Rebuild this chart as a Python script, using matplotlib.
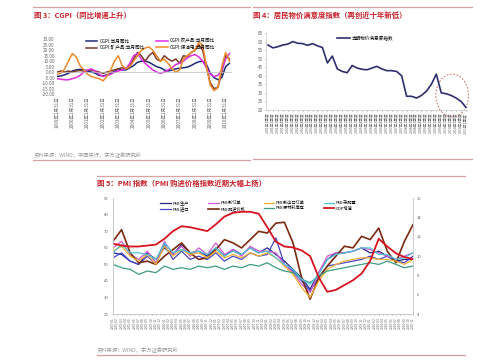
import numpy as np
import matplotlib
matplotlib.use("Agg")
import matplotlib.pyplot as plt
from matplotlib.lines import Line2D
from matplotlib.patches import Ellipse

plt.rcParams['font.family'] = ['Noto Sans CJK SC', 'DejaVu Sans']

# ---------- chart 3: CGPI (quarterly samples, 1999-01 .. 2010-04) ----------
cgpi_months = list(range(0, 138, 3))
cgpi_total = [-4, -3.5, -2.5, -1, 1, 2, 2.5, 2, 1, 0, -1, -3,
              -3.5, -2.5, -1, 0.5, 3, 2, 2, 4, 6, 9, 10, 10,
              9, 7, 5, 4, 2, 1, 2, 3, 3.5, 4, 4.5, 6,
              8, 9.5, 10, 7, -1, -5, -7, -5, 5, 8]
cgpi_agri = [-6, -6.5, -7, -7, -6, -5, -3, 0, 2, 3, 1, -2,
             -4, -3, -2, 0, 1, 2, 3, 8, 15, 17, 12, 8,
             5, 2, 0, -1, 0, 2, 4, 7, 8, 10, 13, 15,
             16, 14, 10, 4, -2, -4, -3, 2, 12, 17]
cgpi_mine = [0, 1, 0, 1, 0, 1, 1.5, 1, 1.5, 2, 1, 0,
             -1, 0, 1, 2, 3, 4, 3, 6, 12, 18, 15, 10,
             15, 18, 12, 10, 15, 12, 10, 12, 8, 15, 14, 18,
             20, 25, 20, 5, -10, -15, -14, 0, 15, 12]
cgpi_fuel = [-2, -1, 3, 10, 17, 14, 6, 2, -2, -4, -5, -6,
             -8, -4, 2, 10, 15, 6, 3, 5, 10, 15, 20, 22,
             23, 20, 15, 10, 12, 8, 3, 0, 2, 12, 15, 18,
             20, 27, 25, 5, -12, -17, -14, 5, 18, 10]
cgpi_years = list(range(1999, 2011))
cgpi_names = ['CGPI:当月同比', 'CGPI:矿产品:当月同比', 'CGPI:农产品:当月同比', 'CGPI:煤油电:当月同比']

# ---------- chart 4: price satisfaction index (2001Q1 .. 2011Q1) ----------
sat_values = [58, 56.3, 57, 58, 58.5, 60, 59, 58.8, 57.8, 58.8, 57.5, 56.5,
              47.5, 51.5, 44, 42.5, 41.8, 46, 44.5, 43.8, 43.5, 44.5, 45.5, 44,
              43, 43, 42.5, 40, 28, 28, 27, 28.5, 31, 35, 41, 30,
              29.5, 28.5, 27, 25, 21.5]
sat_labels = ['%d年%d季度' % (2001 + i // 4, i % 4 + 1) for i in range(len(sat_values))]

# ---------- chart 5: PMI (bimonthly samples, 2005-01 .. 2010-11) ----------
pmi_months = list(range(0, 71, 2))
pmi_prod = [57, 56, 52, 50, 57, 53, 60, 56, 62, 57, 58, 55, 60, 55, 59, 56, 60, 57,
            60, 56, 52, 47, 42, 35, 45, 53, 57, 57, 58, 60, 57, 58, 55, 52, 53, 53]
pmi_order = [60, 64, 56, 53, 58, 51, 64, 56, 61, 55, 60, 56, 63, 56, 59, 55, 61, 58,
             58, 57, 50, 45, 38, 33, 45, 55, 57, 57, 58, 60, 59, 57, 55, 53, 55, 57]
pmi_export = [58, 61, 55, 52, 56, 50, 61, 55, 59, 56, 57, 54, 58, 54, 56, 54, 57, 55,
              57, 54, 49, 44, 36, 30, 40, 47, 50, 52, 53, 54, 54, 53, 53, 52, 50, 53]
pmi_buy = [57, 62, 57, 57, 56, 53, 63, 57, 59, 57, 58, 56, 60, 55, 58, 56, 60, 57,
           58, 54, 50, 47, 41, 38, 44, 53, 56, 57, 58, 60, 60, 56, 56, 53, 54, 57]
pmi_import = [54, 57, 52, 50, 55, 50, 62, 53, 58, 53, 55, 53, 57, 52, 55, 53, 57, 55,
              56, 66, 50, 46, 40, 34, 42, 49, 50, 51, 52, 53, 55, 53, 55, 52, 51, 55]
pmi_price = [64, 71, 57, 51, 52, 50, 55, 59, 63, 57, 53, 54, 59, 65, 63, 60, 65, 70,
             69, 75, 75.5, 63, 42, 29, 42, 49, 55, 61, 60, 67, 65, 72, 58, 51, 64, 74]
pmi_stock = [50, 48, 47, 44, 46, 45, 49, 47, 48, 47, 49, 48, 49, 47, 49, 48, 50, 49,
             51, 48, 46, 45, 41, 39, 43, 46, 47, 48, 49, 50, 51, 50, 52, 50, 48, 49]
gdp_growth = [11.3, 11.1, 11.0, 11.0, 11.1, 11.2, 11.8, 12.6, 13.1, 13.0, 12.8, 12.6,
              13.3, 14.1, 14.5, 14.6, 14.6, 14.4, 13.0, 11.5, 11.0, 10.9, 10.6, 10.0,
              7.8, 6.3, 6.5, 7.0, 7.5, 8.2, 9.5, 11.8, 11.0, 10.3, 9.9, 9.7]
pmi_labels = ['%d-%02d' % (2005 + i // 12, i % 12 + 1) for i in range(71)]

W, H = 500, 361
red = '#c8202a'
rule = '#dca0a0'
grey = '#9a9a9a'
tickc = '#666666'


def rect(x0, y0, x1, y1):
    # pixel box (top-left origin) -> figure fraction
    return [x0 / W, 1 - y1 / H, (x1 - x0) / W, (y1 - y0) / H]


def hline(fig, x0, x1, y, color=rule, lw=0.9):
    fig.add_artist(Line2D([x0 / W, x1 / W], [1 - y / H, 1 - y / H], color=color, lw=lw))


def text(fig, x, y, s, **kw):
    fig.text(x / W, 1 - y / H, s, va='center', ha='left', **kw)


fig = plt.figure(figsize=(5.0, 3.61), dpi=100)

# ---- panel 3 ----
hline(fig, 33, 250, 7)
hline(fig, 33, 250, 160)
text(fig, 34, 15, '图 3：CGPI（同比增速上升）', color=red, fontsize=5.3, fontweight='bold')
text(fig, 34, 155, '资料来源：WIND，中国央行，东方证券研究所', color=grey, fontsize=3.8)

ax3 = fig.add_axes(rect(57, 39.3, 232, 94))
ax3.plot(cgpi_months, cgpi_total, color='#1e2a78', lw=1.1, label=cgpi_names[0])
ax3.plot(cgpi_months, cgpi_mine, color='#7a3b28', lw=1.1, label=cgpi_names[1])
ax3.plot(cgpi_months, cgpi_agri, color='#e02ee0', lw=1.1, label=cgpi_names[2])
ax3.plot(cgpi_months, cgpi_fuel, color='#ee8a2c', lw=1.1, label=cgpi_names[3])
ax3.axhline(0, color='#bbbbbb', lw=0.5)
ax3.set_ylim(-20, 30)
ax3.set_xlim(0, 137)
ax3.set_yticks(np.arange(-20, 31, 5))
ax3.set_yticklabels(['%.2f' % v for v in np.arange(-20, 31, 5)])
ax3.set_xticks([12 * i for i in range(len(cgpi_years))])
ax3.set_xticklabels(['%d年1月31日' % y for y in cgpi_years], rotation=90)
ax3.tick_params(labelsize=3.3, length=0, pad=1.5, colors=tickc)
for s in ax3.spines.values():
    s.set_visible(False)
ax3.legend(loc='upper left', bbox_to_anchor=(0.15, 1.06), ncol=2, frameon=False,
           fontsize=3.3, handlelength=2.6, columnspacing=2.5, labelspacing=0.3,
           borderpad=0, handletextpad=0.4)

# ---- panel 4 ----
hline(fig, 253, 472, 7)
hline(fig, 253, 472, 159)
text(fig, 253, 15, '图 4：居民物价满意度指数（再创近十年新低）', color=red, fontsize=5.3, fontweight='bold')

ax4 = fig.add_axes(rect(266, 33, 468, 110))
xq = np.arange(len(sat_values))
ax4.plot(xq, sat_values, color='#2e2e6e', lw=1.2, label='当期物价满意度指数')
ax4.set_ylim(20, 65)
ax4.set_xlim(-0.4, len(sat_values) - 0.6)
ax4.set_yticks(range(20, 66, 5))
ax4.set_xticks(xq)
ax4.set_xticklabels(sat_labels, rotation=90)
ax4.tick_params(labelsize=2.6, length=1, width=0.4, pad=1, colors=tickc)
ax4.tick_params(axis='y', labelsize=3.3)
for k in ['top', 'right']:
    ax4.spines[k].set_visible(False)
for k in ['left', 'bottom']:
    ax4.spines[k].set_color('#c8c8c8')
    ax4.spines[k].set_linewidth(0.5)
ax4.add_patch(Ellipse((37.2, 28.5), 6.6, 25, fill=False, ls=(0, (2, 2)),
                      ec='#c85050', lw=0.6, clip_on=False))
ax4.legend(loc='upper left', bbox_to_anchor=(0.34, 1.0), frameon=False, fontsize=3.3,
           handlelength=2.8, borderpad=0, handletextpad=0.4)

# ---- panel 5 ----
hline(fig, 97, 465, 175.5)
hline(fig, 97, 465, 355)
text(fig, 97, 183.5, '图 5：PMI 指数（PMI 购进价格指数近期大幅上扬）', color=red, fontsize=5.3,
     fontweight='bold')
text(fig, 97, 350, '资料来源：WIND，东方证券研究所', color=grey, fontsize=3.8)

ax5 = fig.add_axes(rect(113, 198.3, 413, 314))
ax5b = ax5.twinx()
h = []
h += ax5.plot(pmi_months, pmi_prod, color='#26268a', lw=0.9, label='PMI:生产')
h += ax5.plot(pmi_months, pmi_import, color='#4646c8', lw=0.9, label='PMI:进口')
h += ax5.plot(pmi_months, pmi_order, color='#d257d2', lw=0.9, label='PMI:新订单')
h += ax5.plot(pmi_months, pmi_price, color='#7a2a10', lw=1.2, label='PMI:购进价格')
h += ax5.plot(pmi_months, pmi_export, color='#f0b232', lw=0.9, label='PMI:新出口订单')
h += ax5.plot(pmi_months, pmi_stock, color='#3c9c84', lw=0.9, label='PMI:原材料库存')
h += ax5.plot(pmi_months, pmi_buy, color='#52c4d6', lw=0.9, label='PMI:采购量')
h += ax5b.plot(pmi_months, gdp_growth, color='#d8121e', lw=1.3, label='GDP增速')
ax5.set_ylim(20, 90)
ax5b.set_ylim(4, 16)
ax5.set_xlim(0, 70)
ax5.set_yticks(range(20, 91, 10))
ax5b.set_yticks(range(4, 17, 2))
ax5.set_xticks(range(71))
ax5.set_xticklabels(pmi_labels, rotation=90)
ax5.tick_params(axis='x', labelsize=2.3, length=1, width=0.4, pad=1, colors=tickc)
ax5.tick_params(axis='y', labelsize=3.0, length=0, pad=3, colors=tickc)
ax5b.tick_params(axis='y', labelsize=3.0, length=0, pad=3, colors=tickc)
for a in (ax5, ax5b):
    a.spines['top'].set_visible(False)
    for k in ['left', 'right', 'bottom']:
        a.spines[k].set_color('#c8c8c8')
        a.spines[k].set_linewidth(0.5)
ax5.legend(handles=h, loc='upper left', bbox_to_anchor=(0.15, 1.0), ncol=4, frameon=False,
           fontsize=3.0, handlelength=2.6, columnspacing=4.5, labelspacing=0.3,
           borderpad=0, handletextpad=0.4)

fig.savefig('out.png', dpi=100)
